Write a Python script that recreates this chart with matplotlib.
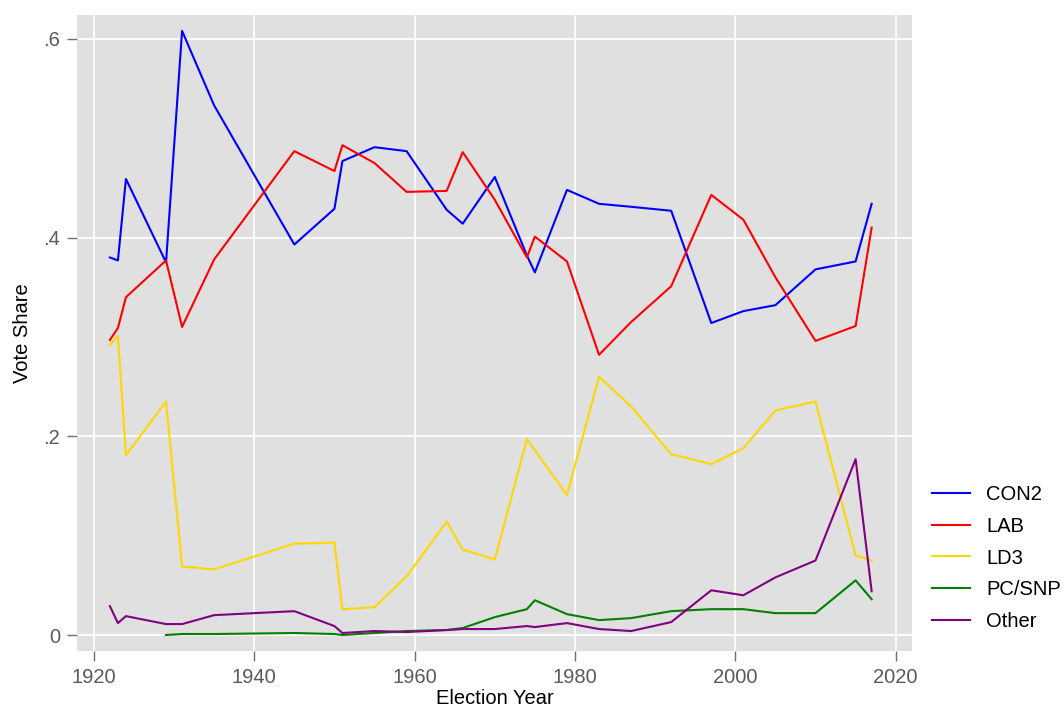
import numpy as np
import matplotlib
matplotlib.use("Agg")
import matplotlib.pyplot as plt

plt.rcParams['font.family'] = ['Liberation Sans', 'DejaVu Sans']

# election years (Oct 1974 coded as 1975)
years = [1922, 1923, 1924, 1929, 1931, 1935, 1945, 1950, 1951, 1955, 1959, 1964,
         1966, 1970, 1974, 1975, 1979, 1983, 1987, 1992, 1997, 2001, 2005, 2010,
         2015, 2017]

con2 = [0.380, 0.377, 0.459, 0.375, 0.608, 0.533, 0.393, 0.429, 0.477, 0.491,
        0.487, 0.428, 0.414, 0.461, 0.382, 0.365, 0.448, 0.434, 0.431, 0.427,
        0.314, 0.326, 0.332, 0.368, 0.376, 0.434]
lab = [0.297, 0.309, 0.340, 0.377, 0.310, 0.378, 0.487, 0.467, 0.493, 0.475,
       0.446, 0.447, 0.486, 0.438, 0.380, 0.401, 0.376, 0.282, 0.315, 0.351,
       0.443, 0.418, 0.360, 0.296, 0.311, 0.410]
ld3 = [0.292, 0.301, 0.181, 0.235, 0.069, 0.066, 0.092, 0.093, 0.026, 0.028,
       0.059, 0.114, 0.086, 0.076, 0.197, 0.186, 0.141, 0.260, 0.230, 0.182,
       0.172, 0.188, 0.226, 0.235, 0.080, 0.075]
# PC/SNP has no value before 1929
pcsnp = [np.nan, np.nan, np.nan, 0.000, 0.001, 0.001, 0.002, 0.001, 0.000, 0.002,
         0.004, 0.005, 0.007, 0.018, 0.026, 0.035, 0.021, 0.015, 0.017, 0.024,
         0.026, 0.026, 0.022, 0.022, 0.055, 0.036]
other = [0.029, 0.012, 0.019, 0.011, 0.011, 0.020, 0.024, 0.009, 0.002, 0.004,
         0.003, 0.005, 0.006, 0.006, 0.009, 0.008, 0.012, 0.006, 0.004, 0.013,
         0.045, 0.040, 0.058, 0.075, 0.177, 0.044]

series = [('CON2', con2, '#0000ff'), ('LAB', lab, '#ff0000'), ('LD3', ld3, '#ffd700'),
          ('PC/SNP', pcsnp, '#008000'), ('Other', other, '#800080')]

fig = plt.figure(figsize=(10.64, 7.09), dpi=100)
ax = fig.add_axes([0.0724, 0.0818, 0.7845, 0.897])
ax.set_facecolor('#e0e0e0')

for name, vals, col in series:
    ax.plot(years, vals, color=col, lw=1.5, label=name)

ax.set_xlim(1917.9, 2022)
ax.set_ylim(-0.0161, 0.624)
ax.set_xticks([1920, 1940, 1960, 1980, 2000, 2020])
ax.set_yticks([0, 0.2, 0.4, 0.6])
ax.set_yticklabels(['0', '.2', '.4', '.6'])
ax.grid(True, color='white', lw=1.3)
ax.set_axisbelow(True)
for s in ax.spines.values():
    s.set_visible(False)
ax.tick_params(axis='both', direction='out', length=7, width=1, color='#707070',
               labelcolor='#5a5a5a', labelsize=14.5, pad=5)

ax.set_xlabel('Election Year', fontsize=14.5, labelpad=2)
ax.set_ylabel('Vote Share', fontsize=14.5, labelpad=8)

fig.legend(loc='center left', bbox_to_anchor=(932 / 1064, 1 - 558 / 709),
           frameon=False, fontsize=14.5, handlelength=1.9, handletextpad=0.8,
           labelspacing=0.63, borderpad=0, borderaxespad=0)

fig.savefig('out.png', dpi=100)
